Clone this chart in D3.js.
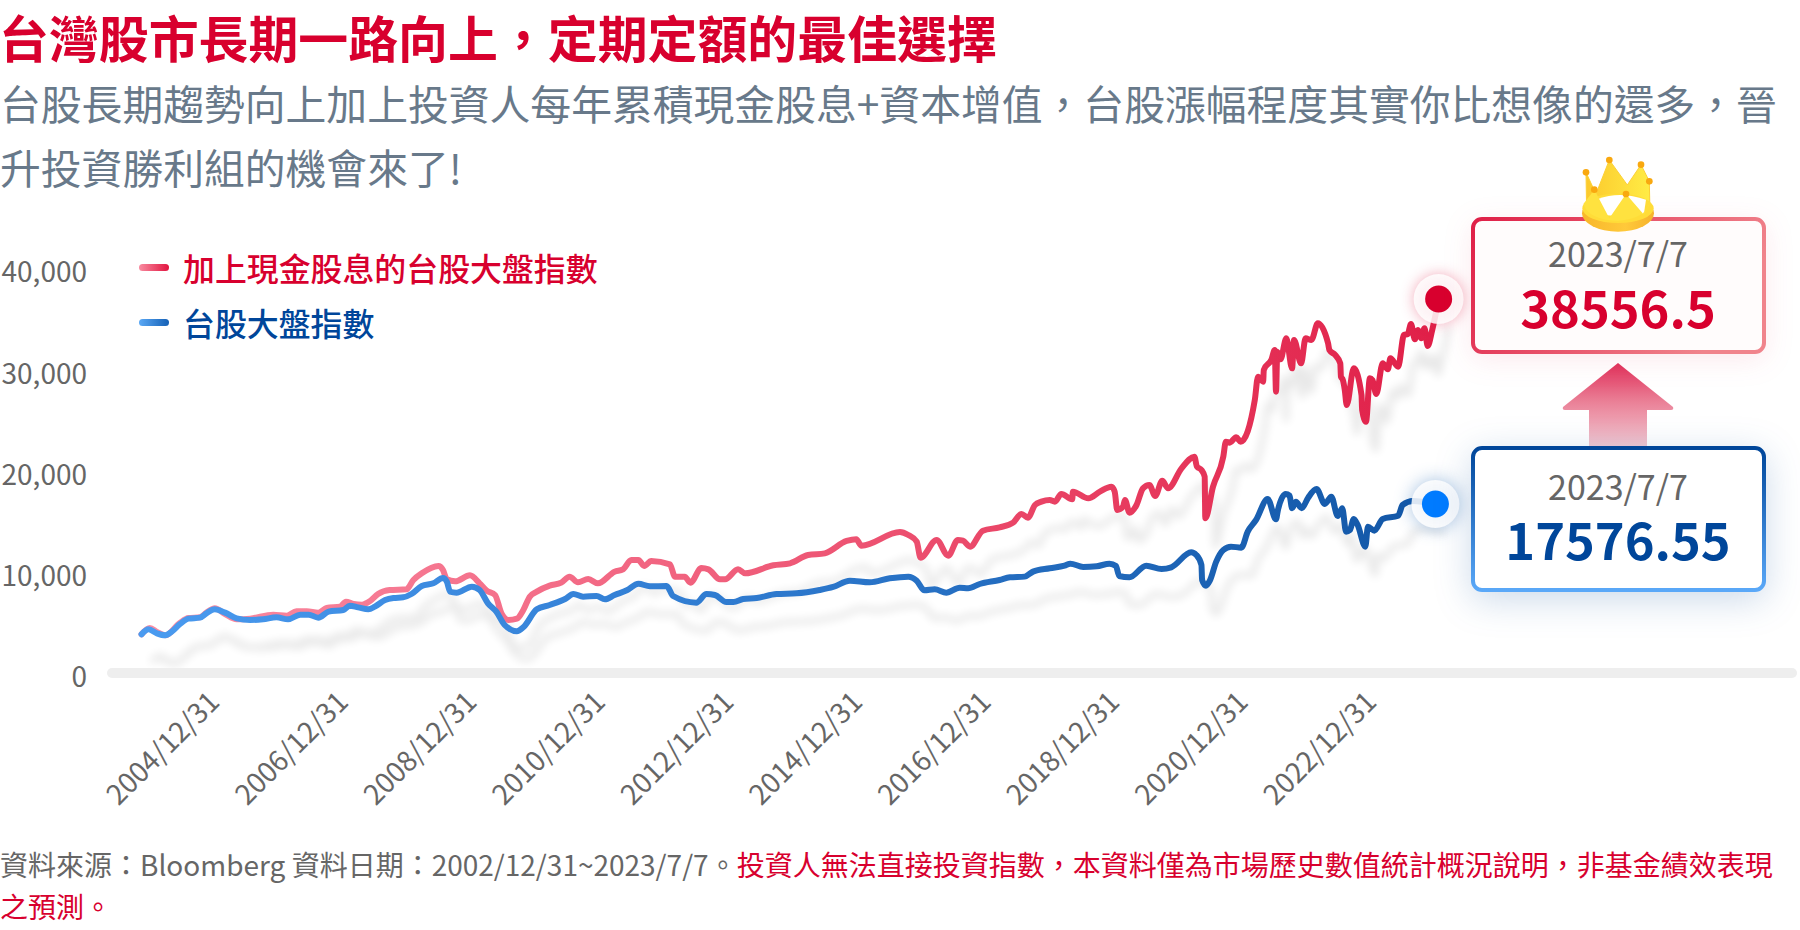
<!DOCTYPE html>
<html lang="zh-Hant">
<head>
<meta charset="utf-8">
<title>台灣股市長期一路向上</title>
<script src="https://cdn.jsdelivr.net/npm/d3@7"></script>
<style>
html,body{margin:0;padding:0;background:#fff;}
svg{display:block;font-family:"Noto Sans CJK TC","Noto Sans",sans-serif;}
</style>
</head>
<body>
<svg id="chart" width="1800" height="930" viewBox="0 0 1800 930"></svg>
<script>
const titleText = "台灣股市長期一路向上，定期定額的最佳選擇";
const subtitleLines = ["台股長期趨勢向上加上投資人每年累積現金股息+資本增值，台股漲幅程度其實你比想像的還多，晉","升投資勝利組的機會來了!"];
const seriesNames = ["加上現金股息的台股大盤指數","台股大盤指數"];
const yTicks = [0,10000,20000,30000,40000];
const xTickYears = [2005,2007,2009,2011,2013,2015,2017,2019,2021,2023];
const xTickLabels = ["2004/12/31","2006/12/31","2008/12/31","2010/12/31","2012/12/31","2014/12/31","2016/12/31","2018/12/31","2020/12/31","2022/12/31"];
const calloutDate = "2023/7/7";
const calloutRed = "38556.5";
const calloutBlue = "17576.55";
const noteGray = "資料來源：Bloomberg 資料日期：2002/12/31~2023/7/7。";
const noteRed1 = "投資人無法直接投資指數，本資料僅為市場歷史數值統計概況說明，非基金績效表現";
const noteRed2 = "之預測。";

const redYears = [2003.81,2003.94,2004.05,2004.18,2004.41,2004.54,2004.72,2004.82,2004.95,2005.11,2005.29,2005.50,2005.86,2006.07,2006.22,2006.38,2006.56,2006.69,2006.90,2006.99,2007.11,2007.24,2007.36,2007.49,2007.67,2007.93,2008.04,2008.17,2008.43,2008.50,2008.56,2008.69,2008.92,2009.07,2009.18,2009.31,2009.41,2009.52,2009.65,2009.75,2009.85,2009.96,2010.16,2010.34,2010.47,2010.60,2010.76,2010.91,2011.17,2011.30,2011.43,2011.54,2011.63,2011.74,2012.03,2012.11,2012.26,2012.35,2012.52,2012.63,2012.81,2012.89,2013.09,2013.20,2013.64,2013.90,2014.18,2014.44,2014.78,2014.93,2015.01,2015.61,2015.74,2015.87,2015.93,2016.18,2016.36,2016.51,2016.59,2016.70,2016.90,2017.16,2017.37,2017.50,2017.60,2017.71,2017.81,2017.94,2018.02,2018.12,2018.29,2018.30,2018.54,2018.72,2018.90,2018.95,2018.99,2019.08,2019.11,2019.18,2019.29,2019.39,2019.49,2019.58,2019.69,2019.78,2019.99,2020.19,2020.23,2020.30,2020.35,2020.36,2020.48,2020.64,2020.68,2020.74,2020.84,2020.91,2021.13,2021.18,2021.26,2021.27,2021.39,2021.44,2021.46,2021.48,2021.53,2021.62,2021.71,2021.74,2021.85,2021.92,2022.01,2022.11,2022.27,2022.29,2022.38,2022.46,2022.47,2022.50,2022.53,2022.56,2022.67,2022.79,2022.80,2022.86,2022.92,2022.96,2023.02,2023.12,2023.20,2023.24,2023.36,2023.45,2023.51,2023.56,2023.62,2023.67,2023.72,2023.77,2023.82,2023.89,2023.99];
const redValues = [3820,4446,4051,3722,4973,5434,5500,5960,6388,5829,5302,5368,5763,5664,6092,6092,5960,6421,6553,7047,6816,6750,7079,7804,8199,8265,9186,9845,10569,10174,9252,9055,9647,8857,8133,7705,5894,5236,5368,6224,7540,8034,8627,8923,9516,8956,9285,8857,10009,10240,11161,11161,10569,11062,10733,9515,9515,8923,10371,10240,9252,9252,10240,9844,10635,10832,11655,11820,13038,13202,12577,13927,13630,12972,11392,13136,11589,13136,13070,12478,14058,14387,14851,15707,15344,16595,16925,17089,16925,17682,17155,17912,17254,17912,18406,17912,16102,16431,17089,15838,16595,18241,18571,17484,18998,18241,20216,21369,20381,20052,19394,15279,18406,21369,22850,22751,23278,22850,26965,29270,28776,29928,30982,31903,27788,31739,30982,33055,30093,32891,30586,33055,32891,34537,32562,31903,31409,30586,29270,28940,27953,26471,30093,27459,25978,24825,29105,28940,27558,30586,29994,31080,30257,33385,33483,34471,32957,33878,33055,34043,32298,33878,36940];

const blueYears = [2003.81,2003.92,2004.05,2004.18,2004.28,2004.41,2004.54,2004.72,2004.82,2004.95,2005.11,2005.29,2005.50,2005.70,2005.91,2006.09,2006.28,2006.41,2006.56,2006.72,2006.95,2007.05,2007.18,2007.34,2007.44,2007.60,2007.73,2007.88,2008.01,2008.17,2008.35,2008.50,2008.56,2008.61,2008.71,2008.95,2009.07,2009.20,2009.33,2009.46,2009.65,2009.75,2009.96,2010.16,2010.40,2010.53,2010.68,2010.89,2011.02,2011.17,2011.36,2011.54,2011.72,2011.98,2012.08,2012.44,2012.60,2012.73,2012.91,2013.02,2013.17,2013.38,2013.69,2014.00,2014.36,2014.57,2014.83,2015.14,2015.45,2015.74,2015.87,2015.99,2016.15,2016.33,2016.54,2016.67,2016.85,2017.16,2017.32,2017.55,2017.68,2017.94,2018.17,2018.26,2018.46,2018.67,2018.87,2018.97,2019.02,2019.18,2019.44,2019.68,2019.83,2020.14,2020.22,2020.30,2020.31,2020.37,2020.43,2020.53,2020.64,2020.76,2020.92,2021.02,2021.15,2021.33,2021.46,2021.49,2021.61,2021.67,2021.71,2021.77,2021.86,2021.96,2022.09,2022.22,2022.32,2022.42,2022.49,2022.55,2022.61,2022.67,2022.73,2022.85,2022.89,2022.99,2023.12,2023.36,2023.43,2023.59,2023.94];
const blueValues = [3820,4314,3919,3722,4084,4841,5368,5466,5894,6289,5960,5401,5236,5302,5500,5302,5763,5763,5466,6059,6224,6652,6487,6289,6553,7211,7409,7475,7804,8594,8857,9384,9022,8034,7935,8528,8199,6882,6059,4742,4117,4512,6289,6717,7310,7804,7540,7606,7277,7705,8166,8824,8561,8594,7606,6948,7804,7705,7014,7014,7310,7408,7804,7870,8198,8495,9120,8956,9351,9515,9120,8166,8264,7935,8429,8363,8791,9186,9452,9518,10011,10341,10604,10801,10472,10538,10801,10571,9583,9452,10604,10275,10439,11921,11657,10670,9188,8629,9123,11000,12151,12480,12382,13962,15114,17188,15180,16102,17682,17517,16267,16925,16267,17320,18176,16694,17419,15509,16267,13962,14126,15213,14620,12480,14455,14060,15213,15542,16595,16990,16692];

const RED="#d8002e", BLUE="#00469a", GREY="#666666", SLATE="#68798a";
const svg = d3.select("#chart");
const defs = svg.append("defs");

function grad(id,x1,y1,x2,y2,stops,user){
  const g=defs.append("linearGradient").attr("id",id).attr("x1",x1).attr("y1",y1).attr("x2",x2).attr("y2",y2);
  if(user) g.attr("gradientUnits","userSpaceOnUse");
  stops.forEach(s=>g.append("stop").attr("offset",s[0]).attr("stop-color",s[1]));
}
grad("redLine",140,0,1440,0,[[0,"#fb8da3"],[.45,"#f05f7c"],[1,"#e01f48"]],true);
grad("blueLine",140,0,1440,0,[[0,"#4a9bf0"],[.45,"#2f7bd0"],[1,"#1256a6"]],true);
grad("redIcon",0,0,1,0,[[0,"#f88ba0"],[1,"#e2143f"]]);
grad("blueIcon",0,0,1,0,[[0,"#5aa8f5"],[1,"#1560b5"]]);
grad("redBox",0,0,1,.3,[[0,"#df1f47"],[1,"#f0848c"]]);
grad("blueBox",0,0,0,1,[[0,"#00469a"],[1,"#5aa8f8"]]);
grad("arrow",0,0,0,1,[[0,"#e0305a"],[.45,"#ea7f96"],[1,"#f3ccd5"]]);
grad("crownBack",0,0,1,0,[[0,"#fcc92c"],[1,"#ffec45"]]);
grad("crownBase",0,0,1,0,[[0,"#f8b62a"],[.6,"#ffc93a"],[1,"#f6b22c"]]);

const blur=defs.append("filter").attr("id","soft").attr("x","-10%").attr("y","-20%").attr("width","120%").attr("height","140%");
blur.append("feGaussianBlur").attr("stdDeviation",4);
defs.append("clipPath").attr("id","aboveBase").append("rect").attr("x",0).attr("y",0).attr("width",1800).attr("height",668);

svg.append("text").attr("x",-1).attr("y",58).attr("font-size",49.9).attr("font-weight",700).attr("fill",RED).text(titleText);
subtitleLines.forEach((t,i)=>svg.append("text").attr("x",0).attr("y",120+i*64).attr("font-size",40.8).attr("font-weight",400).attr("fill",SLATE).text(t));

const x = d3.scaleLinear().domain([2005,2023]).range([218,1375]);
const y = d3.scaleLinear().domain([0,40000]).range([673,268]);
const line = d3.line().x(d=>x(d[0])).y(d=>y(d[1])).curve(d3.curveMonotoneX);
const redData = d3.zip(redYears,redValues);
const blueData = d3.zip(blueYears,blueValues);

const shadowClip = svg.append("g").attr("clip-path","url(#aboveBase)");
const shadow = shadowClip.append("g").attr("filter","url(#soft)").attr("opacity",.085).attr("transform","translate(10,28)");
[redData,blueData].forEach(d=>shadow.append("path").datum(d).attr("d",line).attr("fill","none").attr("stroke","#000").attr("stroke-width",6).attr("stroke-linejoin","round"));
svg.append("rect").attr("x",107).attr("y",668).attr("width",1690).attr("height",10).attr("rx",5).attr("fill","#eeeeee");

const yAxis = svg.append("g").attr("transform","translate(87,5)")
  .call(d3.axisLeft(y).tickValues(yTicks).tickFormat(d3.format(",")).tickSize(0).tickPadding(0));
yAxis.select(".domain").remove();
yAxis.selectAll("text").attr("font-size",28).attr("fill",GREY).attr("font-family","'Noto Sans CJK TC'");

const xAxis = svg.append("g").attr("transform","translate(-11,690)")
  .call(d3.axisBottom(x).tickValues(xTickYears).tickFormat((d,i)=>xTickLabels[i]).tickSize(0).tickPadding(0));
xAxis.select(".domain").remove();
xAxis.selectAll("text").attr("font-size",27.8).attr("fill",GREY).attr("font-family","'Noto Sans CJK TC'")
  .attr("text-anchor","end").attr("dy","0.7em").attr("dx","0").attr("transform","rotate(-45)");

svg.append("path").datum(redData).attr("d",line).attr("fill","none").attr("stroke","url(#redLine)").attr("stroke-width",6).attr("stroke-linejoin","round").attr("stroke-linecap","round");
svg.append("path").datum(blueData).attr("d",line).attr("fill","none").attr("stroke","url(#blueLine)").attr("stroke-width",6).attr("stroke-linejoin","round").attr("stroke-linecap","round");

[[0,268,RED,"redIcon"],[1,323,BLUE,"blueIcon"]].forEach(([i,cy,col,g])=>{
  svg.append("rect").attr("x",139).attr("y",cy-4).attr("width",30).attr("height",7).attr("rx",3.5).attr("fill",`url(#${g})`);
  svg.append("text").attr("x",183).attr("y",cy+2).attr("dy","0.36em").attr("font-size",31.9).attr("font-weight",500).attr("fill",col).text(seriesNames[i]);
});

const redEnd = redData[redData.length-1], blueEnd = blueData[blueData.length-1];
svg.append("circle").attr("cx",x(redEnd[0])).attr("cy",y(redEnd[1])).attr("r",25).attr("fill","#fff").attr("fill-opacity",.85).style("filter","drop-shadow(0 0 7px rgba(224,40,80,.45))");
svg.append("circle").attr("cx",x(redEnd[0])).attr("cy",y(redEnd[1])).attr("r",13.5).attr("fill",RED);
svg.append("circle").attr("cx",x(blueEnd[0])).attr("cy",y(blueEnd[1])).attr("r",24).attr("fill","#fff").attr("fill-opacity",.85).style("filter","drop-shadow(0 0 9px rgba(0,80,170,.42))");
svg.append("circle").attr("cx",x(blueEnd[0])).attr("cy",y(blueEnd[1])).attr("r",13.5).attr("fill","#007bff");

svg.append("path").attr("d","M1618,363 L1673,407 Q1674,410 1671,410 L1647,410 L1647,448 L1589,448 L1589,410 L1565,410 Q1562,410 1563,407 Z").attr("fill","url(#arrow)");

svg.append("rect").attr("x",1473).attr("y",219).attr("width",291).attr("height",133).attr("rx",9).attr("fill","#fffcfc").attr("stroke","url(#redBox)").attr("stroke-width",4).style("filter","drop-shadow(0 6px 14px rgba(230,50,90,.10))");
svg.append("rect").attr("x",1473).attr("y",448).attr("width",291).attr("height",142).attr("rx",9).attr("fill","#fff").attr("stroke","url(#blueBox)").attr("stroke-width",4).style("filter","drop-shadow(0 8px 18px rgba(0,70,150,.20))");
[[267,328,calloutRed,RED,50.6],[500,560,calloutBlue,BLUE,50.6]].forEach(([y1,y2,val,col,fs])=>{
  svg.append("text").attr("x",1618).attr("y",y1).attr("text-anchor","middle").attr("font-size",34).attr("fill",GREY).text(calloutDate);
  svg.append("text").attr("x",1618).attr("y",y2).attr("text-anchor","middle").attr("font-size",fs).attr("font-weight",700).attr("fill",col).text(val);
});

const crown = svg.append("g").attr("transform","translate(1570,149) scale(0.3333)");
crown.append("path").attr("d","M48,70 L78,135 L118,33 L172,108 L213,47 L238,97 L240,190 L50,190 Z").attr("fill","url(#crownBack)").attr("stroke","#fcd034").attr("stroke-width",3).attr("stroke-linejoin","round");
crown.append("ellipse").attr("cx",144).attr("cy",193).attr("rx",108).attr("ry",55).attr("fill","url(#crownBase)");
crown.append("ellipse").attr("cx",144).attr("cy",178).attr("rx",107).attr("ry",44).attr("fill","#ffdc38");
crown.append("path").attr("d","M84,150 Q150,125 228,152 L222,192 Q150,212 70,190 Z").attr("fill","#fff");
crown.append("path").attr("d","M40,165 L73,122 L118,208 L168,135 L222,197 L240,160 Q230,208 144,216 Q55,212 40,165 Z").attr("fill","#ffe23f");
[[48,70],[118,33],[213,47],[238,97],[73,122],[168,135]].forEach(p=>crown.append("circle").attr("cx",p[0]).attr("cy",p[1]).attr("r",10).attr("fill","#f9a80f"));

const note1 = svg.append("text").attr("x",0).attr("y",876).attr("font-size",28).attr("fill",GREY);
note1.append("tspan").text(noteGray);
note1.append("tspan").attr("fill",RED).text(noteRed1);
svg.append("text").attr("x",0).attr("y",918).attr("font-size",28).attr("fill",RED).text(noteRed2);
</script>
</body>
</html>
